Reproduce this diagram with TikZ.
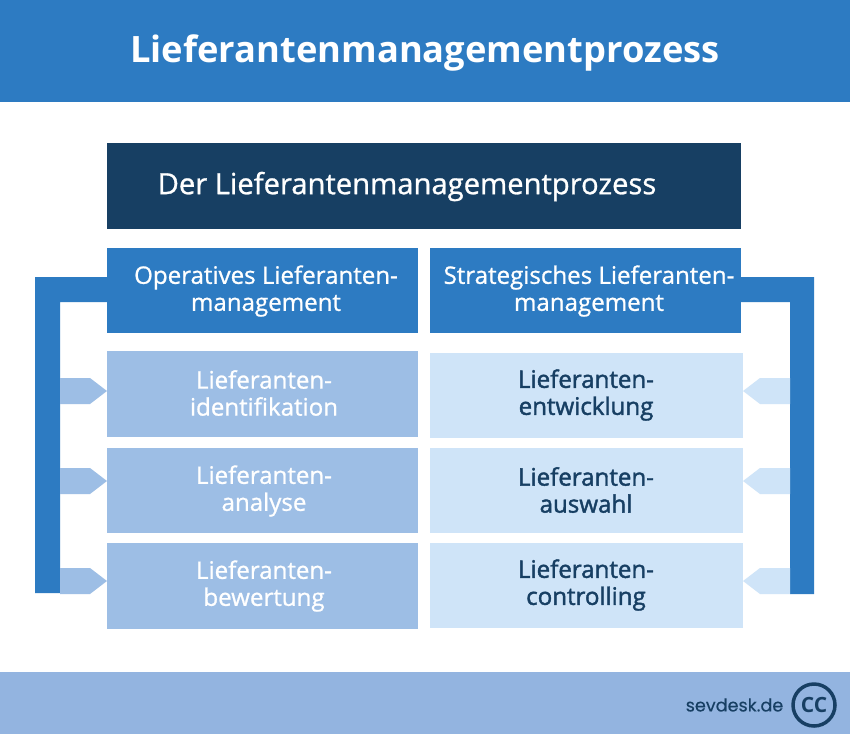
\documentclass[tikz,border=0pt]{standalone}
\usepackage{fontspec}
\setmainfont{Open Sans}
\newfontfamily\semifont{Open Sans}[FakeBold=0.9]
\newfontfamily\heavyfont{Open Sans}[FakeBold=1.7]
\newfontfamily\logofont{Poppins}[FakeBold=0.3]
\definecolor{cblue}{HTML}{2D7BC2}
\definecolor{cdark}{HTML}{173F63}
\definecolor{cfoot}{HTML}{93B4E0}
\definecolor{cmid}{HTML}{9DBEE5}
\definecolor{cpale}{HTML}{CFE4F8}
\definecolor{cnavy}{HTML}{173F63}
\tikzset{
  x=1pt,y=-1pt,
  whitelab/.style={align=center,inner sep=0pt,text=white,font=\semifont\fontsize{24.1}{27}\selectfont},
  navylab/.style={align=center,inner sep=0pt,text=cnavy,font=\heavyfont\fontsize{24.1}{27}\selectfont},
}
\newcommand{\bx}[6]{\fill[#6] (#2,#3) rectangle (#4,#5) coordinate[midway] (#1);}
\begin{document}
\begin{tikzpicture}
\useasboundingbox (0,0) rectangle (850,734);
\fill[white] (0,0) rectangle (850,734);
% bands
\bx{head}{0}{0}{850}{102}{cblue}
\bx{foot}{0}{672}{850}{734}{cfoot}
\bx{dark}{107}{143}{741}{229}{cdark}
% brackets
\fill[cblue] (107,277) -| (35,593) -| (60,302) -| (107,277) -- cycle;
\fill[cblue] (741,277) -| (814,594) -| (790,302) -| (741,277) -- cycle;
\bx{op}{107}{248}{418}{333}{cblue}
\bx{st}{430}{248}{741}{333}{cblue}
% left column
\bx{la}{107}{351}{418}{437}{cmid}
\bx{lb}{107}{448}{418}{533}{cmid}
\bx{lc}{107}{543}{418}{629}{cmid}
% right column
\bx{ra}{430}{353}{743}{438}{cpale}
\bx{rb}{430}{448}{743}{533}{cpale}
\bx{rc}{430}{543}{743}{628}{cpale}
% pointers
\foreach \y in {378,468,568}{
  \fill[cmid] (60,\y) -- (90,\y) -- (107,\y+13) -- (90,\y+26) -- (60,\y+26) -- cycle;
  \fill[cpale] (790,\y) -- (760,\y) -- (743,\y+13) -- (760,\y+26) -- (790,\y+26) -- cycle;
}
% texts
\node[whitelab,font=\bfseries\fontsize{36.3}{40}\selectfont] (t0) at (425,53) {Lieferantenmanagementprozess};
\node[whitelab,font=\semifont\fontsize{29.2}{34}\selectfont] (t1) at (407,186.5) {Der Lieferantenmanagementprozess};
\node[whitelab] (t2) at (266,291) {Operatives Lieferanten-\\management};
\node[whitelab] (t3) at (589,291) {Strategisches Lieferanten-\\management};
\node[whitelab] (t4) at (264,393) {Lieferanten-\\identifikation};
\node[whitelab] (t5) at (264,491) {Lieferanten-\\analyse};
\node[whitelab] (t6) at (264,586) {Lieferanten-\\bewertung};
\node[navylab] (t7) at (586,395) {Lieferanten-\\entwicklung};
\node[navylab] (t8) at (586,490) {Lieferanten-\\auswahl};
\node[navylab] (t9) at (586,585) {Lieferanten-\\controlling};
\node[inner sep=0pt,text=cnavy,font=\logofont\fontsize{17.6}{22}\selectfont] (logo) at (734.5,705) {sevdesk.de};
\node[circle,draw=cnavy,line width=3.5pt,minimum size=42pt,inner sep=0pt,text=cnavy,font=\bfseries\fontsize{21}{24}\selectfont] (cc) at (814,705) {CC};
\end{tikzpicture}
\end{document}
